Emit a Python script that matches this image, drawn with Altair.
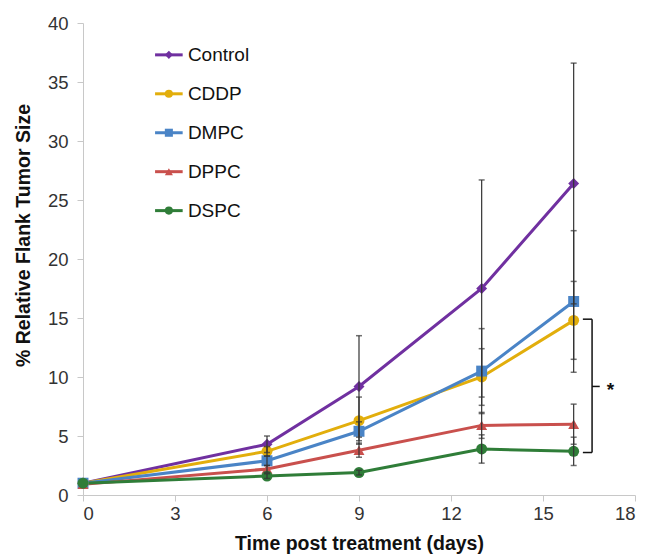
import altair as alt
import pandas as pd

days = [0, 6, 9, 13, 16]
series = ["Control", "CDDP", "DMPC", "DPPC", "DSPC"]
colors = ["#7030a0", "#e2ae0c", "#4a84c6", "#c9504d", "#2f7d38"]
shapes = ["diamond", "circle", "square", "triangle-up", "circle"]

control = [1.0, 4.3, 9.2, 17.5, 26.4]
control_err = [0.0, 0.7, 4.3, 9.2, 10.2]
cddp = [1.0, 3.7, 6.3, 10.0, 14.8]
cddp_err = [0.0, 0.4, 2.0, 2.4, 3.3]
dmpc = [1.0, 2.9, 5.4, 10.5, 16.4]
dmpc_err = [0.0, 0.4, 0.8, 3.6, 6.0]
dppc = [0.9, 2.2, 3.8, 5.9, 6.0]
dppc_err = [0.0, 0.3, 0.6, 1.1, 1.7]
dspc = [1.0, 1.6, 1.9, 3.9, 3.7]
dspc_err = [0.0, 0.2, 0.2, 1.2, 1.2]

x_ticks = [0, 3, 6, 9, 12, 15, 18]
y_ticks = [0, 5, 10, 15, 20, 25, 30, 35, 40]

# legend placement (data units)
legend_x1, legend_xm, legend_x2, legend_xt = 2.35, 2.8, 3.25, 3.42
legend_rows = [37.3, 34.0, 30.7, 27.4, 24.1]

# significance bracket (data units)
bracket_x = 16.6
bracket_top = 14.9
bracket_bottom = 3.6
bracket_mid = 9.2
bracket_left = 16.3
bracket_right = 16.85
star_x = 17.2

values = [control, cddp, dmpc, dppc, dspc]
errs = [control_err, cddp_err, dmpc_err, dppc_err, dspc_err]
rows = []
for s, vals, es in zip(series, values, errs):
    for d, v, e in zip(days, vals, es):
        rows.append({"series": s, "day": d, "value": v,
                     "lo": v - e, "hi": v + e, "err": e})
df = pd.DataFrame(rows)
df_err = df[df["err"] > 0]

leg = pd.DataFrame({"series": series, "y": legend_rows,
                    "x1": legend_x1, "xm": legend_xm, "x2": legend_x2, "xt": legend_xt})

color_scale = alt.Scale(domain=series, range=colors)
shape_scale = alt.Scale(domain=series, range=shapes)

x_enc = alt.X("day:Q", scale=alt.Scale(domain=[0, 18], nice=False),
              axis=alt.Axis(values=x_ticks, title="Time post treatment (days)",
                            titlePadding=12, labelPadding=3))
y_enc = alt.Y("value:Q", scale=alt.Scale(domain=[0, 40], nice=False),
              axis=alt.Axis(values=y_ticks, title="% Relative Flank Tumor Size",
                            titlePadding=14, labelPadding=9, titleY=212))

base = alt.Chart(df)

lines = base.mark_line(strokeWidth=3).encode(
    x=x_enc, y=y_enc,
    color=alt.Color("series:N", scale=color_scale, legend=None),
    order="day:Q",
)
points = base.mark_point(filled=True, opacity=1, size=120).encode(
    x="day:Q", y="value:Q",
    color=alt.Color("series:N", scale=color_scale, legend=None),
    shape=alt.Shape("series:N", scale=shape_scale, legend=None),
)
err_rule = alt.Chart(df_err).mark_rule(color="#333333", strokeWidth=1.2).encode(
    x="day:Q", y="lo:Q", y2="hi:Q")
err_cap_hi = alt.Chart(df_err).mark_tick(color="#333333", orient="horizontal",
                                         size=6, thickness=1.5).encode(x="day:Q", y="hi:Q")
err_cap_lo = alt.Chart(df_err).mark_tick(color="#333333", orient="horizontal",
                                         size=6, thickness=1.5).encode(x="day:Q", y="lo:Q")

leg_line = alt.Chart(leg).mark_rule(strokeWidth=3).encode(
    x="x1:Q", x2="x2:Q", y="y:Q",
    color=alt.Color("series:N", scale=color_scale, legend=None))
leg_pt = alt.Chart(leg).mark_point(filled=True, opacity=1, size=65).encode(
    x="xm:Q", y="y:Q",
    color=alt.Color("series:N", scale=color_scale, legend=None),
    shape=alt.Shape("series:N", scale=shape_scale, legend=None))
leg_txt = alt.Chart(leg).mark_text(align="left", baseline="middle", font="Liberation Sans",
                                   fontSize=19, color="#111111").encode(
    x="xt:Q", y="y:Q", text="series:N")

br = pd.DataFrame({
    "x": [bracket_x, bracket_left, bracket_left, bracket_x],
    "x2": [bracket_x, bracket_x, bracket_x, bracket_right],
    "y": [bracket_bottom, bracket_top, bracket_bottom, bracket_mid],
    "y2": [bracket_top, bracket_top, bracket_bottom, bracket_mid],
})
bracket = alt.Chart(br).mark_rule(color="#111111", strokeWidth=1.5).encode(
    x="x:Q", x2="x2:Q", y="y:Q", y2="y2:Q")
star = alt.Chart(pd.DataFrame({"x": [star_x], "y": [bracket_mid], "t": ["*"]})).mark_text(
    font="Liberation Sans", fontSize=19, fontWeight="bold", color="#111111",
    baseline="middle", dy=4).encode(x="x:Q", y="y:Q", text="t:N")

chart = alt.layer(
    lines, points, err_rule, err_cap_hi, err_cap_lo,
    leg_line, leg_pt, leg_txt, bracket, star
).properties(
    width=552, height=472,
    autosize=alt.AutoSizeParams(type="none"),
    padding={"left": 83, "top": 23, "right": 14, "bottom": 59},
).configure_view(stroke=None).configure_axis(
    grid=False, domainColor="#c8c8c8", tickColor="#c8c8c8", tickSize=6,
    labelFont="Liberation Sans", labelFontSize=18.5, labelColor="#333333",
    titleFont="Liberation Sans", titleFontSize=19.5, titleFontWeight="bold",
    titleColor="#111111",
)

chart.save("out.html", embed_options={"renderer": "svg", "actions": False})
